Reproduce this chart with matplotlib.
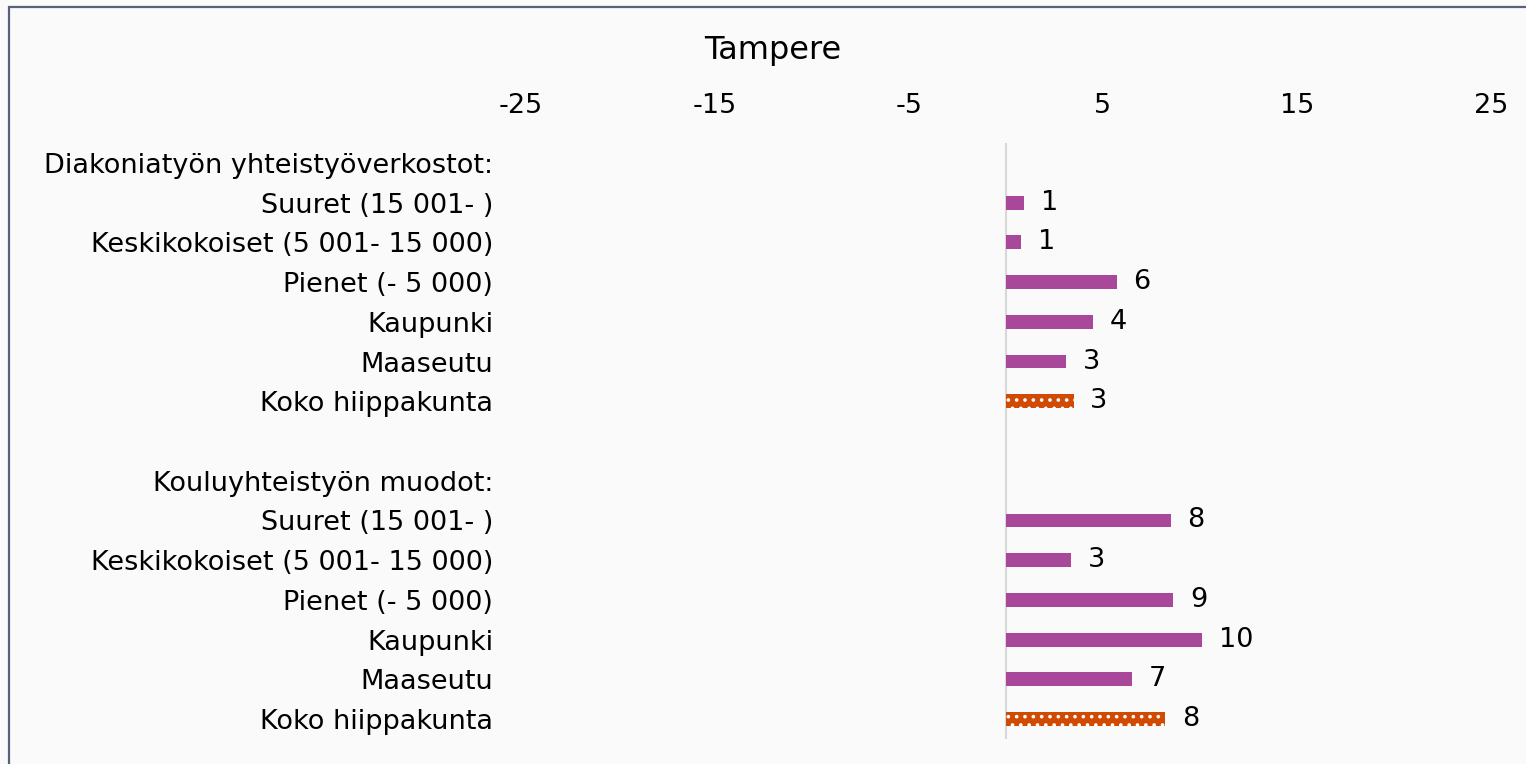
import numpy as np
import matplotlib
matplotlib.use('Agg')
import matplotlib.pyplot as plt
from matplotlib.patches import Rectangle

# rows from top to bottom; header rows carry no value
categories = ['Diakoniatyön yhteistyöverkostot:', 'Suuret (15 001- )',
              'Keskikokoiset (5 001- 15 000)', 'Pienet (- 5 000)',
              'Kaupunki', 'Maaseutu', 'Koko hiippakunta', '',
              'Kouluyhteistyön muodot:', 'Suuret (15 001- )',
              'Keskikokoiset (5 001- 15 000)', 'Pienet (- 5 000)',
              'Kaupunki', 'Maaseutu', 'Koko hiippakunta']
values = [np.nan, 0.93, 0.77, 5.7, 4.47, 3.09, 3.49, np.nan,
          np.nan, 8.49, 3.36, 8.62, 10.1, 6.51, 8.2]
value_labels = ['', '1', '1', '6', '4', '3', '3', '',
                '', '8', '3', '9', '10', '7', '8']
is_total = [False, False, False, False, False, False, True, False,
            False, False, False, False, False, False, True]
xticks = [-25, -15, -5, 5, 15, 25]

bg = '#fafafa'
purple = '#a9489a'
orange = '#d14a02'
fs = 19.5

plt.rcParams['hatch.linewidth'] = 1.4

W, H = 1526, 764
fig = plt.figure(figsize=(W/100, H/100), dpi=100, facecolor=bg)
ax = fig.add_axes([521/W, 1-739/H, (1491-521)/W, (739-143)/H])
ax.set_facecolor(bg)

y = np.arange(len(categories))
for i in range(len(categories)):
    if np.isnan(values[i]):
        continue
    if is_total[i]:
        ax.barh(y[i], values[i], height=0.35, color=orange,
                edgecolor='white', linewidth=0, hatch='..')
    else:
        ax.barh(y[i], values[i], height=0.35, color=purple, linewidth=0)
    ax.annotate(value_labels[i], (values[i], y[i]), xytext=(12, 0),
                textcoords='offset points', va='center', ha='left',
                fontsize=fs, color='black')

ax.axvline(0, color='#d9d9d9', lw=1.5, zorder=0)
ax.set_xlim(-25, 25)
ax.set_ylim(len(categories)-0.5, -0.5)
ax.set_yticks(y)
ax.set_yticklabels(categories, fontsize=fs)
ax.set_xticks(xticks)
ax.set_xticklabels([str(t) for t in xticks], fontsize=fs)
ax.xaxis.tick_top()
ax.tick_params(axis='x', length=0, pad=17)
ax.tick_params(axis='y', length=0, pad=20)
for s in ax.spines.values():
    s.set_visible(False)

fig.text(773/W, 1-50/H, 'Tampere', ha='center', va='center', fontsize=23)

# outer frame, right and bottom edges run past the image
fig.patches.append(Rectangle((9/W, -0.2), 1.5, 1.2-7/H, transform=fig.transFigure,
                             fill=False, edgecolor='#56627a', lw=1.6))

fig.savefig('out.png', dpi=100, facecolor=bg)
